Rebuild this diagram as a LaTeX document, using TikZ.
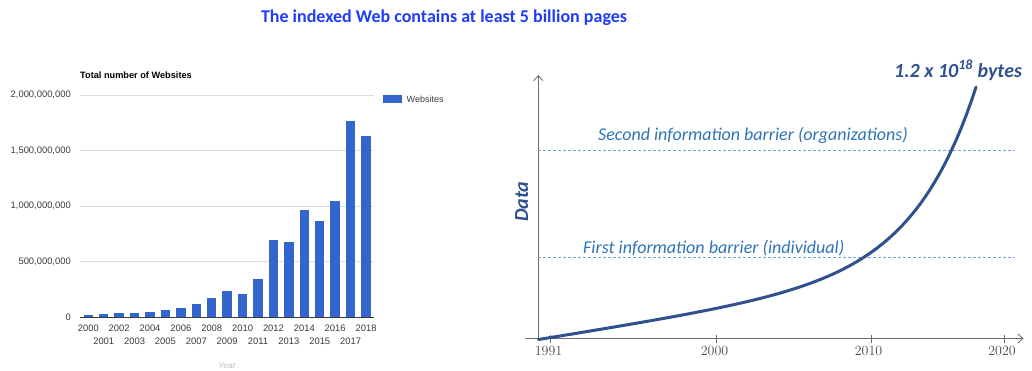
\documentclass[tikz,border=0pt]{standalone}
\usepackage{fontspec}
\newfontfamily\calfont{Carlito}
\newfontfamily\arialfont{Liberation Sans}
\usetikzlibrary{arrows.meta}
\definecolor{titleblue}{RGB}{30,60,250}
\definecolor{barblue}{RGB}{51,102,204}
\definecolor{darkblue}{RGB}{47,82,143}
\definecolor{midblue}{RGB}{46,117,182}
\definecolor{dashblue}{RGB}{125,155,215}
\definecolor{axisgray}{RGB}{110,110,110}
\definecolor{gridgray}{RGB}{222,222,222}
\definecolor{labgray}{RGB}{60,60,60}
\definecolor{numgray}{RGB}{75,75,75}
\definecolor{yeargray}{RGB}{190,190,190}
\tikzset{
  bar/.style={fill=barblue,draw=none},
  grid line/.style={draw=gridgray,line width=0.8pt},
  ylab/.style={anchor=east,inner sep=0pt,text=labgray,font=\arialfont\fontsize{9.4}{11}\selectfont},
  xlab/.style={anchor=center,inner sep=0pt,text=labgray,font=\arialfont\fontsize{9.4}{11}\selectfont},
  barrier/.style={draw=dashblue,line width=0.7pt,dash pattern=on 3pt off 2pt},
  barrier text/.style={anchor=west,inner sep=0pt,text=midblue,font=\calfont\itshape\fontsize{18}{20}\selectfont},
  axis line/.style={draw=axisgray,line width=0.9pt,-{Straight Barb[length=5pt,width=9pt]}},
  tick line/.style={draw=axisgray,line width=0.9pt},
  tick label/.style={anchor=center,inner sep=0pt,text=numgray,font=\fontsize{14}{16}\selectfont},
  curve/.style={draw=darkblue,line width=3pt,line cap=round,line join=round}
}
\begin{document}
\begin{tikzpicture}[x=1pt,y=-1pt]
\useasboundingbox[fill=white] (0,0) rectangle (1032,371);
% title
\node[inner sep=0pt,text=titleblue,font=\calfont\bfseries\fontsize{18}{20}\selectfont] (title) at (444,18) {The indexed Web contains at least 5 billion pages};
% ---------- left chart ----------
\node[anchor=west,inner sep=0pt,font=\arialfont\bfseries\fontsize{9.2}{11}\selectfont] (ctitle) at (80,75) {Total number of Websites};
\foreach \yy/\lab/\nm in {95/{2,000,000,000}/g4,150.5/{1,500,000,000}/g3,206/{1,000,000,000}/g2,261.5/{500,000,000}/g1}{
  \coordinate (\nm a) at (80,\yy);
  \coordinate (\nm b) at (374,\yy);
  \draw[grid line] (\nm a) -- (\nm b);
  \node[ylab] (\nm l) at (71,\yy) {\lab};
}
\node[ylab] (g0l) at (71,317) {0};
\foreach \t [count=\i from 0] in {315.3,314,313.3,313.3,311.7,310,308,303.7,297.7,290.7,294.3,279,240,242.3,210,221,201,121,136}{
  \pgfmathsetmacro{\xc}{88.3+15.43*\i}
  \fill[bar] (\xc-4.7,317) rectangle (\xc+4.7,\t);
}
\coordinate (base a) at (80,317);
\coordinate (base b) at (374,317);
\draw[draw=labgray,line width=0.9pt] (base a) -- (base b);
\foreach \i in {0,...,18}{
  \pgfmathsetmacro{\xc}{88.3+15.43*\i}
  \pgfmathtruncatemacro{\yr}{2000+\i}
  \pgfmathtruncatemacro{\odd}{mod(\i,2)}
  \ifnum\odd=0
    \node[xlab] (yr\yr) at (\xc,328.5) {\yr};
  \else
    \node[xlab] (yr\yr) at (\xc,341) {\yr};
  \fi
}
\node[inner sep=0pt,text=yeargray,font=\arialfont\itshape\fontsize{8.5}{10}\selectfont] (yearlab) at (227,366) {Year};
% legend
\fill[bar] (383.3,95) rectangle (402.3,103.3);
\node[anchor=west,inner sep=0pt,text=labgray,font=\arialfont\fontsize{9}{11}\selectfont] (legend) at (406.5,99.2) {Websites};
% ---------- right chart ----------
\coordinate (origin) at (538.3,339.5);
\coordinate (ytop) at (538.3,75);
\coordinate (xleft) at (525,338.5);
\coordinate (xright) at (1023.5,338.5);
\draw[axis line] (origin) -- (ytop);
\draw[axis line] (xleft) -- (xright);
\foreach \xx/\yr in {550/1991,716.7/2000,871/2010,1004/2020}{
  \coordinate (t\yr a) at (\xx,334.5);
  \coordinate (t\yr b) at (\xx,343);
  \draw[tick line] (t\yr a) -- (t\yr b);
}
\node[tick label] (l1991) at (548.5,351) {1991};
\node[tick label] (l2000) at (714.5,351) {2000};
\node[tick label] (l2010) at (868.5,351) {2010};
\node[tick label] (l2020) at (1002,351) {2020};
% barriers
\coordinate (b2a) at (538.3,150.5);
\coordinate (b2b) at (1015,150.5);
\coordinate (b1a) at (538.3,257);
\coordinate (b1b) at (1015,257);
\draw[barrier] (b2a) -- (b2b);
\draw[barrier] (b1a) -- (b1b);
\node[barrier text,anchor=base west] (second) at (598,140.7) {Second information barrier (organizations)};
\node[barrier text,anchor=base west] (first) at (583,253) {First information barrier (individual)};
% curve
\draw[curve] plot[domain=538.5:976,samples=90,variable=\x] (\x,{339.5-(0.166*(exp(0.016*(\x-538.5))-1)+0.16*(\x-538.5))});
\node[inner sep=0pt,rotate=90,text=darkblue,font=\calfont\bfseries\itshape\fontsize{20}{22}\selectfont] (data) at (521.7,201.7) {Data};
\node[anchor=base west,inner sep=0pt,text=darkblue,font=\calfont\bfseries\itshape\fontsize{20}{22}\selectfont] (bytes) at (894,77.3) {1.2 x 10\textsuperscript{18} bytes};
\end{tikzpicture}
\end{document}
